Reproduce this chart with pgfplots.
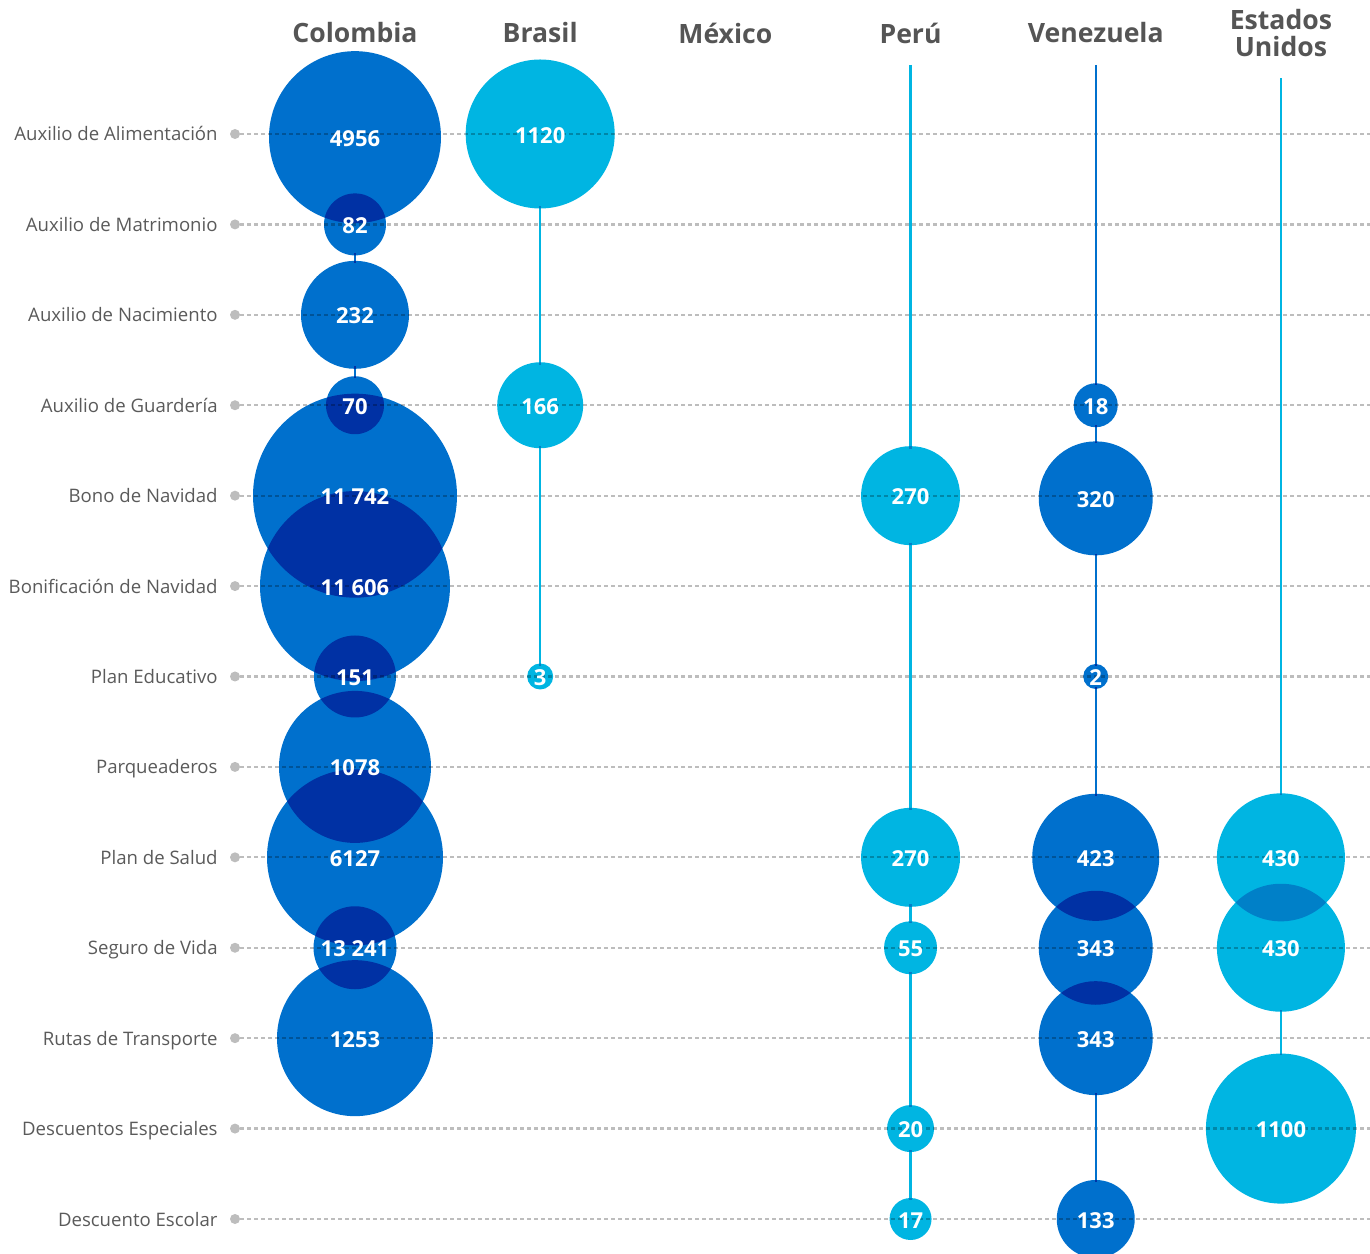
\documentclass[border=0pt]{standalone}
\usepackage{pgfplots}
\pgfplotsset{compat=1.18}
\usepackage{pgfplotstable}
\usepackage{fontspec}
\setmainfont{Open Sans}
\definecolor{cblue}{HTML}{0070CD}
\definecolor{ccyan}{HTML}{00B5E2}
\definecolor{lblgray}{HTML}{5A5A5A}
\definecolor{hdrgray}{HTML}{555555}
\definecolor{gridgray}{HTML}{BDBDBD}

\pgfdeclareplotmark{fcirc}{\pgfpathcircle{\pgfpointorigin}{\pgfplotmarksize}\pgfusepathqfill}

% r = bubble radius in px (1px = 0.5pt)
\pgfplotstableread[col sep=comma]{
x,y,r,lab
0,0.035,86,4956
0,1,31,82
0,2,54,232
0,3,29,70
0,4,102,11 742
0,5,95,11 606
0,6,41,151
0,7,76,1078
0,8,88,6127
0,9,41.5,13 241
0,10,78,1253
}\colombia
\pgfplotstableread[col sep=comma]{
x,y,r,lab
1,0,74.5,1120
1,3,43,166
1,6,13,3
}\brasil
\pgfplotstableread[col sep=comma]{
x,y,r,lab
3,4,49.5,270
3,8,49.5,270
3,9,26.5,55
3,11,23.5,20
3,12,21,17
}\peru
\pgfplotstableread[col sep=comma]{
x,y,r,lab
4,3,22,18
4,4.03,57,320
4,6,12.5,2
4,8,63.5,423
4,9,57,343
4,10,57,343
4,12,39,133
}\venezuela
\pgfplotstableread[col sep=comma]{
x,y,r,lab
5,8,64,430
5,9,64,430
5,11,75,1100
}\eeuu

\pgfplotsset{
  bub/.style={on layer=pre main, scatter, only marks, mark=fcirc, point meta=explicit,
    scatter/use mapped color={draw=none, fill=#1},
    visualization depends on={\thisrow{r} \as \rr},
    scatter/@pre marker code/.append style={/tikz/mark size=0.5*\rr},
    blend mode=multiply},
  lab/.style={on layer=axis foreground, only marks, mark=none, nodes near coords,
    point meta=explicit symbolic,
    nodes near coords style={anchor=center, text=white, inner sep=0pt, yshift=-0.6pt,
      font=\bfseries\fontsize{11}{13}\selectfont}},
  vline/.style={on layer=main, #1, line width=1.2pt, mark=none, unbounded coords=jump},
}

\begin{document}
\begin{tikzpicture}
\begin{axis}[name=ax, set layers, scale only axis, width=565pt, height=594pt,
  xmin=-0.621, xmax=5.481, ymin=-0.7631, ymax=12.376, y dir=reverse,
  clip=false, axis line style={draw=none}, major tick length=0pt,
  xtick={0,...,5},
  xticklabels={Colombia,Brasil,México,Perú,Venezuela,{Estados\\Unidos}},
  xticklabel pos=upper,
  xticklabel style={anchor=center, yshift=16pt, align=center,
    font=\bfseries\fontsize{13.3}{13.5}\selectfont, text=hdrgray},
  ytick={0,...,12},
  yticklabels={Auxilio de Alimentación, Auxilio de Matrimonio, Auxilio de Nacimiento,
    Auxilio de Guardería, Bono de Navidad, Bonificación de Navidad, Plan Educativo,
    Parqueaderos, Plan de Salud, Seguro de Vida, Rutas de Transporte,
    Descuentos Especiales, Descuento Escolar},
  yticklabel style={anchor=base east, xshift=-11pt, yshift=-3.5pt, inner sep=0pt,
    font=\fontsize{9.3}{11}\selectfont, text=lblgray},
  ymajorgrids, grid style={gridgray, line width=1.1pt, dash pattern=on 2pt off 1.5pt},
]
% row markers
\addplot[only marks, mark=fcirc, mark size=2.5pt, gridgray, mark options={fill=gridgray}]
  coordinates {(-0.648,0) (-0.648,1) (-0.648,2) (-0.648,3) (-0.648,4) (-0.648,5) (-0.648,6)
   (-0.648,7) (-0.648,8) (-0.648,9) (-0.648,10) (-0.648,11) (-0.648,12)};
% bubbles
\addplot[bub=cblue] table[x=x, y=y, meta=r] {\colombia};
\addplot[bub=ccyan] table[x=x, y=y, meta=r] {\brasil};
\addplot[bub=ccyan] table[x=x, y=y, meta=r] {\peru};
\addplot[bub=cblue] table[x=x, y=y, meta=r] {\venezuela};
\addplot[bub=ccyan] table[x=x, y=y, meta=r] {\eeuu};
% connecting lines (visible parts between bubbles)
\addplot[vline=cblue] coordinates {(0,1.32) (0,1.43) (0,nan) (0,2.57) (0,2.70)};
\addplot[vline=ccyan] coordinates {(1,0.80) (1,2.55) (1,nan) (1,3.45) (1,5.88)};
\addplot[vline=ccyan] coordinates {(3,-0.763) (3,3.48) (3,nan) (3,4.52) (3,7.48) (3,nan)
  (3,8.52) (3,8.73) (3,nan) (3,9.27) (3,10.76) (3,nan) (3,11.24) (3,11.79)};
\addplot[vline=cblue] coordinates {(4,-0.763) (4,2.78) (4,nan) (4,3.22) (4,3.42) (4,nan)
  (4,4.64) (4,5.88) (4,nan) (4,6.12) (4,7.32) (4,nan) (4,10.61) (4,11.59)};
\addplot[vline=ccyan] coordinates {(5,-0.619) (5,7.31) (5,nan) (5,9.69) (5,10.19)};
% labels
\addplot[lab] table[x=x, y=y, meta=lab] {\colombia};
\addplot[lab] table[x=x, y=y, meta=lab] {\brasil};
\addplot[lab] table[x=x, y=y, meta=lab] {\peru};
\addplot[lab] table[x=x, y=y, meta=lab] {\venezuela};
\addplot[lab] table[x=x, y=y, meta=lab] {\eeuu};
\end{axis}
\pgfresetboundingbox
\path ([xshift=-120pt]ax.south west) rectangle ([yshift=32.5pt]ax.north east);
\end{tikzpicture}
\end{document}
